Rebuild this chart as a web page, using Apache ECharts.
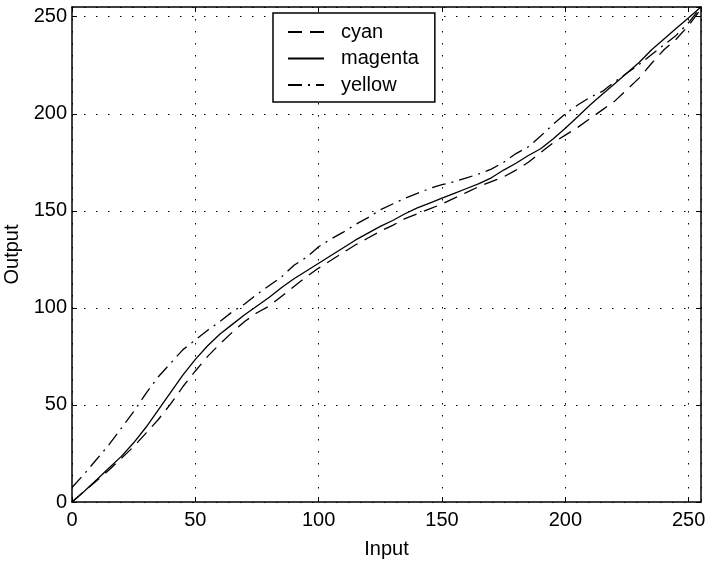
<!DOCTYPE html>
<html>
<head>
<meta charset="utf-8">
<script src="https://cdn.jsdelivr.net/npm/echarts@6/dist/echarts.min.js"></script>
<style>
    html, body { margin: 0; padding: 0; background: #fff; }
    #chart { width: 710px; height: 572px; }
</style>
</head>
<body>
<div id="chart"></div>
<script>
// input levels
const inputs = [0, 5, 10, 15, 20, 25, 30, 35, 40, 45, 50, 55, 60, 65, 70, 75, 80, 85, 90, 95,
    100, 105, 110, 115, 120, 125, 130, 135, 140, 145, 150, 155, 160, 165, 170, 175, 180, 185,
    190, 195, 200, 205, 210, 215, 220, 225, 230, 235, 240, 245, 250, 255];

const cyan = [0, 5.5, 11, 16.5, 22.5, 28.5, 35.5, 42.5, 50.5, 59.5, 67.5, 75, 81.5, 87.5, 93, 97.5, 101, 106, 111, 116,
    120.5, 124.5, 128.5, 132.5, 136, 139.5, 142.5, 146, 148.5, 151, 153.5, 156.5, 159.5, 162.5, 165, 167.5,
    171, 175, 180, 185, 189, 193, 197.5, 202, 206.5, 212.5, 218.5, 226, 233, 238.5, 245.5, 254];

const magenta = [0, 5.5, 11.5, 17.5, 23.5, 30.5, 38.5, 47.5, 56.5, 65.5, 73.5, 80.5, 86.5, 91.5, 96.5, 101, 105.5, 110.5, 115, 119,
    123, 127, 131, 135, 138.5, 142, 145, 148.5, 151.5, 154, 156.5, 159, 161.5, 164, 167, 171,
    174.5, 178.5, 182, 187, 192.5, 198.5, 204.5, 210, 215.5, 221, 226.5, 233, 238.5, 244, 249.5, 255];

const yellow = [7.5, 14.5, 22, 29.5, 38, 46.5, 56, 64.5, 71.5, 78.5, 83.5, 88.5, 93, 98, 102, 107, 111.5, 116, 122, 126,
    131.5, 135.5, 139, 143, 146.5, 150.5, 153.5, 156.5, 159, 161.5, 163.5, 165, 167, 169, 171.5, 175,
    179.5, 183, 188.5, 194.5, 200, 204.5, 208.5, 211.5, 216.5, 221, 225.5, 230.5, 235.5, 240.5, 247, 255];

const seriesNames = ['cyan', 'magenta', 'yellow'];

const font = 'Liberation Sans, Arial, sans-serif';
const dotted = { color: '#000', width: 1, type: [1.5, 10.5] };

function pairs(ys) {
    return inputs.map((x, i) => [x, ys[i]]);
}

function mainAxis(pos, name, gap, labelMargin) {
    return {
        type: 'value',
        position: pos,
        min: 0,
        max: 255,
        interval: 50,
        name: name,
        nameLocation: 'middle',
        nameGap: gap,
        nameTextStyle: { fontFamily: font, fontSize: 20, color: '#000' },
        axisLine: { show: true, onZero: false, lineStyle: { color: '#000', width: 1.5 } },
        axisTick: { show: true, inside: true, length: 5, lineStyle: { color: '#000' } },
        axisLabel: { fontFamily: font, fontSize: 20, color: '#000', margin: labelMargin, showMaxLabel: false },
        splitLine: { show: true, lineStyle: dotted }
    };
}

function sideAxis(pos) {
    return {
        type: 'value',
        position: pos,
        min: 0,
        max: 255,
        interval: 50,
        axisLine: { show: true, onZero: false, lineStyle: { color: '#000', width: 1.5 } },
        axisTick: { show: true, inside: true, length: 5, lineStyle: { color: '#000' } },
        axisLabel: { show: false },
        splitLine: { show: false }
    };
}

const chart = echarts.init(document.getElementById('chart'), null, { renderer: 'canvas' });

const lineTypes = [[14, 8], 'solid', [14, 6, 2, 6]];
const dataSets = [cyan, magenta, yellow];

chart.setOption({
    animation: false,
    backgroundColor: '#fff',
    grid: { left: 72, right: 9, top: 7, bottom: 70, containLabel: false, outerBoundsMode: 'none' },
    legend: {
        data: seriesNames,
        orient: 'vertical',
        left: 273,
        top: 13,
        padding: [9, 16, 7, 14],
        itemWidth: 36,
        itemHeight: 18,
        itemGap: 6.5,
        backgroundColor: '#fff',
        borderColor: '#000',
        borderWidth: 1.5,
        borderRadius: 0,
        itemStyle: { opacity: 0 },
        textStyle: { fontFamily: font, fontSize: 20, color: '#000', padding: [0, 0, 0, 12] }
    },
    xAxis: [mainAxis('bottom', 'Input', 37, 8), sideAxis('top')],
    yAxis: [mainAxis('left', 'Output', 49, 5), sideAxis('right')],
    series: seriesNames.map((name, i) => ({
        name: name,
        type: 'line',
        data: pairs(dataSets[i]),
        showSymbol: false,
        symbol: 'none',
        smooth: false,
        lineStyle: { color: '#000', width: 1.3, type: lineTypes[i] },
        itemStyle: { color: '#000' },
        z: 5
    }))
});
</script>
</body>
</html>
